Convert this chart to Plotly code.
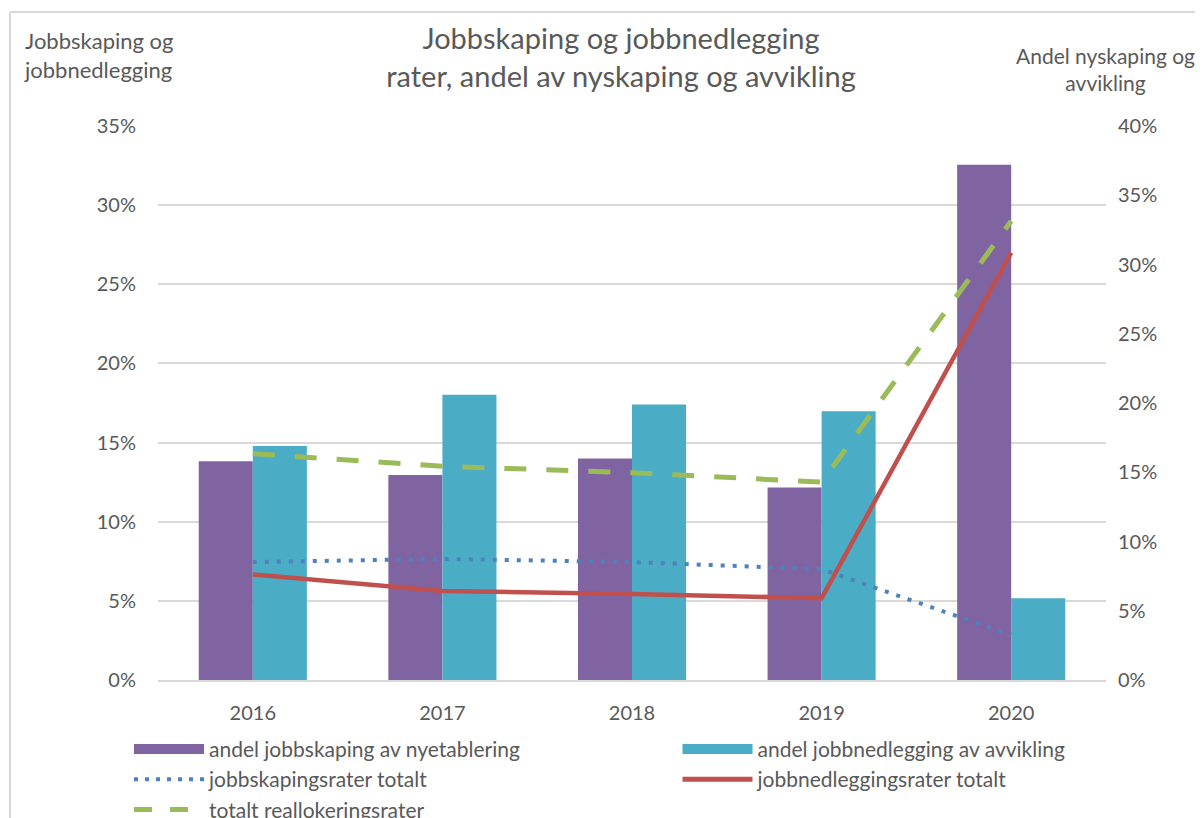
import plotly.graph_objects as go

years = ["2016", "2017", "2018", "2019", "2020"]
andel_nyetablering = [15.8, 14.8, 16.0, 13.9, 37.2]   # right axis (%)
andel_avvikling = [16.9, 20.6, 19.9, 19.4, 5.9]        # right axis (%)
jobbskaping_totalt = [7.45, 7.65, 7.45, 7.0, 2.85]     # left axis (%)
jobbnedlegging_totalt = [6.67, 5.62, 5.43, 5.17, 27.0]  # left axis (%)
reallokering_totalt = [14.3, 13.5, 13.1, 12.5, 29.0]   # left axis (%)

left_ticks = [0, 5, 10, 15, 20, 25, 30, 35]
right_ticks = [0, 5, 10, 15, 20, 25, 30, 35, 40]

PURPLE = "#8064A2"
TEAL = "#4BACC6"
BLUE = "#4F81BD"
RED = "#C0504D"
GREEN = "#9BBB59"
TXT = "#595959"
GRID = "#D9D9D9"
FONT = "Lato, 'Open Sans', sans-serif"

fig = go.Figure()
# bars on the right-hand axis (y), lines on the left-hand axis (y2, drawn on top)
fig.add_trace(go.Bar(x=years, y=andel_nyetablering, name="andel jobbskaping av nyetablering",
                     marker=dict(color=PURPLE, line=dict(width=0)), yaxis="y", showlegend=False))
fig.add_trace(go.Bar(x=years, y=andel_avvikling, name="andel jobbnedlegging av avvikling",
                     marker=dict(color=TEAL, line=dict(width=0)), yaxis="y", showlegend=False))

fig.add_trace(go.Scatter(x=years, y=jobbskaping_totalt, name="jobbskapingsrater totalt", mode="lines",
                         line=dict(color=BLUE, width=4, dash="4px,8px"), yaxis="y2", showlegend=False))
fig.add_trace(go.Scatter(x=years, y=jobbnedlegging_totalt, name="jobbnedleggingsrater totalt", mode="lines",
                         line=dict(color=RED, width=4.5), yaxis="y2", showlegend=False))
fig.add_trace(go.Scatter(x=years, y=reallokering_totalt, name="totalt reallokeringsrater", mode="lines",
                         line=dict(color=GREEN, width=5, dash="22px,20px"), yaxis="y2", showlegend=False))

# legend entries (wide swatches like the original), in two columns
legend_items = [
    ("andel jobbskaping av nyetablering", PURPLE, 14, "solid", "legend"),
    ("andel jobbnedlegging av avvikling", TEAL, 14, "solid", "legend2"),
    ("jobbskapingsrater totalt", BLUE, 4, "4px,7px", "legend"),
    ("jobbnedleggingsrater totalt", RED, 5, "solid", "legend2"),
    ("totalt reallokeringsrater", GREEN, 5, "18px,18px", "legend"),
]
for name, col, w, d, lg in legend_items:
    fig.add_trace(go.Scatter(x=[None], y=[None], name=name, mode="lines", legend=lg, yaxis="y2",
                             line=dict(color=col, width=w, dash=d), showlegend=True))

legend_common = dict(orientation="v", xanchor="left", yanchor="top", itemwidth=70,
                     font=dict(size=21, color=TXT, family=FONT), traceorder="normal",
                     bgcolor="rgba(0,0,0,0)")

fig.update_layout(
    width=1195, height=810,
    margin=dict(l=150, r=97, t=118, b=138, autoexpand=False),
    paper_bgcolor="white", plot_bgcolor="white",
    font=dict(family=FONT, color=TXT, size=20),
    barmode="group", bargap=0.43, bargroupgap=0,
    title=dict(text="Jobbskaping og jobbnedlegging<br>rater, andel av nyskaping og avvikling",
               x=0.513, xanchor="center", y=0.949, yanchor="middle",
               font=dict(size=29, color=TXT, family=FONT)),
    xaxis=dict(type="category", showgrid=False, showline=True, linecolor=GRID, linewidth=1.5,
               ticks="outside", ticklen=14, tickcolor="rgba(0,0,0,0)",
               tickfont=dict(size=20, color=TXT)),
    yaxis=dict(range=[0, 40], tickvals=right_ticks, ticktext=[f"{v}%" for v in right_ticks],
               side="right", showgrid=False, zeroline=False,
               ticks="outside", ticklen=7, tickcolor="rgba(0,0,0,0)",
               tickfont=dict(size=20, color=TXT)),
    yaxis2=dict(range=[0, 35], tickvals=left_ticks, ticktext=[f"{v}%" for v in left_ticks],
                overlaying="y", side="left",
                showgrid=True, gridcolor=GRID, gridwidth=1.5, zeroline=False,
                ticks="outside", ticklen=17, tickcolor="rgba(0,0,0,0)",
                tickfont=dict(size=20, color=TXT)),
    legend=dict(x=-0.0306, y=-0.088, **legend_common),
    legend2=dict(x=0.548, y=-0.088, **legend_common),
    annotations=[
        dict(text="Jobbskaping og<br>jobbnedlegging", xref="paper", yref="paper",
             x=-0.1432, y=1.128, xanchor="left", yanchor="middle", align="left",
             showarrow=False, font=dict(size=22, color=TXT)),
        dict(text="Andel nyskaping og<br>avvikling", xref="paper", yref="paper",
             x=0.999, y=1.103, xanchor="center", yanchor="middle", align="center",
             showarrow=False, font=dict(size=21, color=TXT)),
    ],
    shapes=[
        dict(type="line", xref="paper", yref="paper", x0=-0.1561, x1=-0.1561, y0=1.2058, y1=-0.5,
             line=dict(color=GRID, width=2)),
        dict(type="line", xref="paper", yref="paper", x0=-0.1561, x1=1.2, y0=1.2058, y1=1.2058,
             line=dict(color=GRID, width=2)),
    ],
)

fig.write_html("out.html")
